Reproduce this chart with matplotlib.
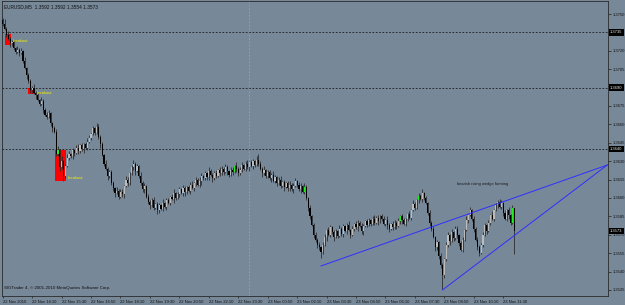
import numpy as np
import matplotlib

# no display in the sandbox, just write the png
matplotlib.use('Agg')

import matplotlib.pyplot as plt
from matplotlib.transforms import blended_transform_factory

plt.rcParams['font.family'] = ['Liberation Sans', 'DejaVu Sans']

# EURUSD M5, one close per bar (open of a bar = previous close)
symbol = 'EURUSD,M5'
first_open = 1.3745
closes = [
    1.3742, 1.3738, 1.3733, 1.3730, 1.3726, 1.3727, 1.3722, 1.3719, 1.3721, 1.3718,
    1.3720, 1.3712, 1.3706, 1.3700, 1.3695, 1.3688, 1.3690, 1.3686, 1.3684, 1.3680,
    1.3677, 1.3679, 1.3672, 1.3668, 1.3666, 1.3669, 1.3661, 1.3657, 1.3654, 1.3636,
    1.3639, 1.3625, 1.3630, 1.3618, 1.3626, 1.3633, 1.3636, 1.3634, 1.3639, 1.3637,
    1.3641, 1.3638, 1.3643, 1.3640, 1.3644, 1.3641, 1.3646, 1.3649, 1.3652, 1.3657,
    1.3653, 1.3658, 1.3650, 1.3644, 1.3635, 1.3628, 1.3624, 1.3618, 1.3621, 1.3612,
    1.3608, 1.3604, 1.3606, 1.3601, 1.3605, 1.3603, 1.3610, 1.3615, 1.3612, 1.3620,
    1.3625, 1.3628, 1.3622, 1.3626, 1.3618, 1.3612, 1.3607, 1.3610, 1.3601, 1.3597,
    1.3594, 1.3598, 1.3592, 1.3595, 1.3590, 1.3594, 1.3591, 1.3596, 1.3593, 1.3598,
    1.3596, 1.3601, 1.3599, 1.3604, 1.3600, 1.3603, 1.3607, 1.3604, 1.3608, 1.3605,
    1.3609, 1.3606, 1.3611, 1.3608, 1.3612, 1.3615, 1.3611, 1.3614, 1.3618, 1.3616,
    1.3620, 1.3617, 1.3622, 1.3619, 1.3616, 1.3620, 1.3618, 1.3623, 1.3620, 1.3624,
    1.3621, 1.3625, 1.3622, 1.3619, 1.3623, 1.3621, 1.3626, 1.3624, 1.3620, 1.3623,
    1.3627, 1.3624, 1.3628, 1.3625, 1.3629, 1.3626, 1.3630, 1.3627, 1.3631, 1.3628,
    1.3624, 1.3620, 1.3623, 1.3618, 1.3621, 1.3616, 1.3619, 1.3614, 1.3617, 1.3612,
    1.3615, 1.3610, 1.3613, 1.3609, 1.3612, 1.3608, 1.3611, 1.3607, 1.3610, 1.3614,
    1.3611, 1.3607, 1.3610, 1.3605, 1.3609, 1.3600, 1.3592, 1.3585, 1.3578, 1.3570,
    1.3566, 1.3562, 1.3560, 1.3556, 1.3562, 1.3568, 1.3574, 1.3570, 1.3576, 1.3572,
    1.3568, 1.3573, 1.3569, 1.3575, 1.3571, 1.3577, 1.3573, 1.3578, 1.3574, 1.3570,
    1.3575, 1.3579, 1.3576, 1.3580, 1.3577, 1.3573, 1.3577, 1.3581, 1.3578, 1.3582,
    1.3579, 1.3583, 1.3580, 1.3584, 1.3581, 1.3585, 1.3583, 1.3579, 1.3582, 1.3578,
    1.3575, 1.3579, 1.3576, 1.3580, 1.3577, 1.3581, 1.3585, 1.3582, 1.3579, 1.3583,
    1.3587, 1.3584, 1.3590, 1.3595, 1.3592, 1.3598, 1.3602, 1.3599, 1.3604, 1.3600,
    1.3596, 1.3588, 1.3580, 1.3575, 1.3568, 1.3560, 1.3564, 1.3553, 1.3545, 1.3537,
    1.3550, 1.3562, 1.3570, 1.3565, 1.3572, 1.3567, 1.3575, 1.3570, 1.3563, 1.3558,
    1.3566, 1.3574, 1.3582, 1.3586, 1.3590, 1.3583, 1.3575, 1.3566, 1.3560, 1.3555,
    1.3562, 1.3570, 1.3578, 1.3573, 1.3580, 1.3586, 1.3583, 1.3590, 1.3594, 1.3597,
    1.3593, 1.3596, 1.3588, 1.3583, 1.3590, 1.3586, 1.3580, 1.3592, 1.3573,
]
# wick lengths above / below the body, in pips
wick_up = [
    2, 4, 1, 3, 1, 2, 2, 1, 3, 1,  2, 1, 3, 1, 2, 2, 1, 3, 1, 2,
    1, 3, 2, 1, 2, 3, 1, 1, 2, 2,  3, 1, 4, 1, 2, 3, 2, 1, 2, 1,
    2, 3, 1, 2, 1, 2, 3, 2, 1, 2,  1, 3, 2, 1, 2, 1, 3, 1, 2, 2,
    2, 1, 3, 1, 2, 2, 1, 3, 2, 1,  2, 3, 1, 2, 1, 3, 2, 2, 1, 2,
    1, 2, 3, 1, 2, 2, 1, 3, 1, 2,  2, 1, 2, 3, 1, 2, 2, 1, 3, 2,
    1, 2, 2, 3, 1, 2, 1, 3, 2, 1,  2, 1, 3, 2, 1, 2, 3, 1, 2, 2,
    1, 3, 2, 1, 2, 2, 1, 3, 1, 2,  2, 1, 2, 3, 1, 2, 2, 1, 3, 5,
    2, 1, 3, 1, 2, 2, 1, 3, 2, 1,  2, 3, 1, 2, 1, 2, 3, 1, 2, 2,
    1, 2, 2, 1, 3, 2, 1, 2, 1, 2,  2, 1, 2, 1, 2, 3, 1, 2, 2, 1,
    2, 2, 1, 3, 1, 2, 1, 2, 3, 1,  2, 1, 2, 2, 1, 3, 2, 1, 2, 2,
    1, 2, 3, 1, 2, 1, 2, 2, 1, 3,  2, 1, 2, 2, 1, 3, 1, 2, 2, 1,
    1, 2, 1, 3, 2, 1, 2, 1, 3, 1,  2, 1, 2, 1, 2, 1, 2, 1, 2, 2,
    1, 2, 2, 1, 3, 1, 2, 2, 1, 2,  2, 1, 3, 1, 3, 1, 2, 1, 2, 2,
    1, 2, 2, 1, 2, 1, 3, 1, 2, 1,  2, 2, 1, 2, 1, 3, 1, 2, 0,
]
wick_dn = [
    2, 1, 2, 1, 3, 2, 1, 2, 1, 2,  1, 2, 1, 3, 1, 2, 2, 1, 3, 1,
    2, 1, 3, 1, 2, 1, 2, 3, 1, 2,  2, 3, 1, 4, 2, 1, 2, 1, 2, 3,
    1, 2, 1, 2, 3, 1, 2, 1, 2, 1,  2, 1, 2, 3, 1, 2, 1, 3, 2, 1,
    2, 3, 1, 2, 1, 2, 3, 1, 2, 1,  1, 2, 3, 1, 2, 1, 2, 3, 1, 2,
    3, 1, 2, 1, 3, 2, 1, 2, 1, 3,  1, 2, 1, 3, 2, 1, 2, 1, 2, 3,
    2, 1, 3, 1, 2, 2, 1, 2, 3, 1,  1, 2, 2, 1, 3, 1, 2, 1, 2, 1,
    2, 1, 3, 2, 1, 2, 1, 3, 2, 1,  2, 1, 2, 1, 3, 1, 2, 2, 1, 2,
    1, 3, 1, 2, 2, 1, 3, 1, 2, 2,  1, 2, 1, 3, 1, 2, 2, 1, 3, 1,
    2, 1, 3, 1, 2, 2, 3, 2, 1, 3,  2, 3, 2, 5, 2, 1, 3, 1, 2, 1,
    3, 1, 2, 1, 2, 3, 1, 2, 1, 3,  1, 2, 1, 3, 1, 2, 3, 1, 2, 1,
    2, 1, 2, 1, 3, 1, 2, 1, 2, 3,  3, 1, 2, 1, 2, 1, 2, 3, 1, 2,
    2, 1, 2, 1, 2, 1, 2, 1, 2, 2,  1, 2, 3, 2, 1, 3, 2, 3, 2, 11,
    2, 1, 2, 3, 1, 2, 1, 3, 2, 1,  2, 1, 1, 2, 1, 2, 3, 1, 2, 2,
    1, 2, 1, 2, 1, 2, 1, 2, 1, 2,  1, 2, 3, 1, 2, 3, 2, 1, 19,
]
# bars painted lime by the indicator
signal_bars = [10, 30, 126, 164, 205, 216, 226, 277]

time_labels = ['22 Nov 2010', '22 Nov 14:10', '22 Nov 15:30', '22 Nov 16:50',
               '22 Nov 18:10', '22 Nov 19:30', '22 Nov 20:50', '22 Nov 22:10',
               '22 Nov 23:30', '23 Nov 00:50', '23 Nov 02:10', '23 Nov 03:30',
               '23 Nov 04:50', '23 Nov 06:10', '23 Nov 07:30', '23 Nov 08:50',
               '23 Nov 10:10', '23 Nov 11:30']
bars_per_label = 16
day_break_bar = 134

level_lines = [1.3735, 1.3690, 1.3640]

# "breakout" rectangles
box_from = [1.1, 13.6, 28.3]
box_to = [4.3, 17.4, 34.2]
box_top = [1.3734, 1.3690, 1.3639]
box_bottom = [1.3725, 1.3685, 1.3614]
box_label_bar = [5.6, 18.6, 35.6]
box_label_price = [1.3728, 1.3686, 1.3616]

# wedge trend lines
wedge_bars = [[173, 328.6], [239, 328.6]]
wedge_prices = [[1.35446, 1.36269], [1.35250, 1.36269]]
wedge_note = 'bearish rising wedge forming'
wedge_note_bar = 261
wedge_note_price = 1.36115

BG = '#778899'
INK = '#111111'


def main():
    c = np.array(closes)
    o = np.concatenate([[first_open], c[:-1]])
    hi = np.maximum(o, c) + np.array(wick_up) * 1e-4
    lo = np.minimum(o, c) - np.array(wick_dn) * 1e-4
    x = np.arange(len(c))

    fig = plt.figure(figsize=(6.25, 3.05), dpi=100, facecolor=BG)
    ax = fig.add_axes([2 / 625, 9 / 305, 605.7 / 625, 295 / 305])
    ax.set_facecolor(BG)

    # rectangles sit behind the bars
    for x0, x1, t, b in zip(box_from, box_to, box_top, box_bottom):
        ax.add_patch(plt.Rectangle((x0, b), x1 - x0, t - b, color='#ff0000',
                                   lw=0, zorder=1))
    for bx, by in zip(box_label_bar, box_label_price):
        ax.text(bx, by, 'breakout', color='#f2f200', fontsize=2.9,
                va='center', ha='left', zorder=6)

    for lv in level_lines:
        ax.axhline(lv, color='#1a1a1a', lw=0.6, ls=(0, (2, 2)), zorder=2)
    ax.axvline(day_break_bar, color='#98a5b3', lw=0.6, ls=(0, (2, 2)), zorder=1)

    # candles
    ax.vlines(x, lo, hi, color='#262626', lw=0.55, zorder=3)
    colors = np.where(c >= o, '#bcbcbc', '#000000').astype(object)
    for i in signal_bars:
        colors[i] = '#22ee22'
    body = np.maximum(np.abs(c - o), 0.00004)
    ax.bar(x, body, bottom=np.minimum(o, c), width=0.62, color=list(colors),
           lw=0, zorder=4)

    for bx, py in zip(wedge_bars, wedge_prices):
        ax.plot(bx, py, color='#2f2fff', lw=0.7, zorder=5, clip_on=False)
    ax.text(wedge_note_bar, wedge_note_price, wedge_note, color='#1a1a1a',
            fontsize=2.9, ha='center', va='center', zorder=6)

    ax.set_xlim(-0.4, 328.8)
    ax.set_ylim(1.35201, 1.37606)

    # right price scale; the level tags cover their own tick labels
    ax.yaxis.tick_right()
    yt = np.round(np.arange(1.3525, 1.37501, 0.0015), 4)
    ax.set_yticks(yt)
    ax.set_yticklabels(['' if any(abs(v - lv) < 1e-6 for lv in level_lines)
                        else '%.4f' % v for v in yt])
    ax.tick_params(axis='y', labelsize=3.0, length=2, width=0.5, pad=1.5,
                   colors='#202020', labelcolor=INK)
    tr = blended_transform_factory(ax.transAxes, ax.transData)
    for lv in level_lines + [c[-1]]:
        ax.text(1.0036, lv, '%.4f' % lv, transform=tr, fontsize=3.0,
                color='#e8e8e8', va='center', ha='left', zorder=7,
                bbox=dict(facecolor='#000000', edgecolor='none', pad=0.9),
                clip_on=False)

    # time scale
    xt = np.arange(len(time_labels)) * bars_per_label
    ax.set_xticks(xt)
    ax.set_xticklabels(time_labels, ha='left')
    ax.tick_params(axis='x', labelsize=3.0, length=1.6, width=0.5, pad=1.0,
                   colors='#202020', labelcolor=INK)

    for sp in ax.spines.values():
        sp.set_color('#2a2a2a')
        sp.set_linewidth(0.6)

    title = '%s  %.4f %.4f %.4f %.4f' % (symbol, o[-1], hi[-1], lo[-1], c[-1])
    ax.text(0.004, 0.988, title, transform=ax.transAxes, fontsize=3.4,
            color=INK, va='top', ha='left')
    ax.text(0.004, 0.026, 'SIGTrader 4, \u00a9 2001-2010 MetaQuotes Software Corp.',
            transform=ax.transAxes, fontsize=3.2, color=INK, va='center',
            ha='left')

    fig.savefig('out.png', dpi=100, facecolor=BG)


if __name__ == "__main__":
    main()
